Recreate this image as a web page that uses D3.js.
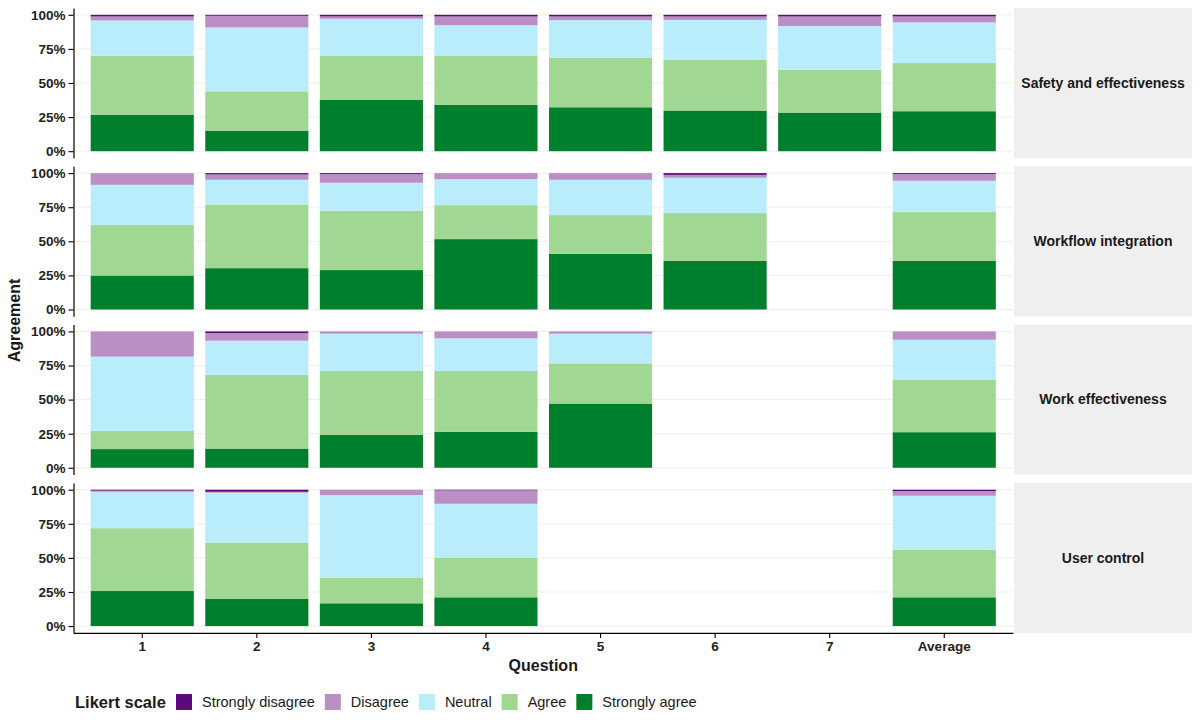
<!DOCTYPE html>
<html>
<head>
<meta charset="utf-8">
<script src="https://cdn.jsdelivr.net/npm/d3@7"></script>
<style>
  body { margin: 0; background: #fff; }
  svg text { font-family: "Liberation Sans", Arial, sans-serif; }
</style>
</head>
<body>
<svg id="chart" width="1200" height="720"></svg>
<script>
// values in percent, each row is [Strongly disagree, Disagree, Neutral, Agree, Strongly agree]
const questions = ["1", "2", "3", "4", "5", "6", "7", "Average"];
const levels = ["Strongly disagree", "Disagree", "Neutral", "Agree", "Strongly agree"];
const facets = ["Safety and effectiveness", "Workflow integration", "Work effectiveness", "User control"];

const safety = [
  [1.2, 2.9, 25.9, 43.2, 26.8],
  [0.7, 8.6, 46.8, 28.8, 15.1],
  [1.2, 1.7, 27.3, 32.0, 37.8],
  [1.2, 6.4, 22.2, 36.1, 34.1],
  [1.2, 2.7, 27.6, 36.3, 32.2],
  [1.2, 2.5, 29.2, 37.3, 29.8],
  [1.2, 7.1, 31.9, 31.5, 28.3],
  [1.2, 4.4, 29.8, 35.3, 29.3]
];
const workflow = [
  [0.0, 8.6, 29.5, 37.0, 24.9],
  [1.0, 3.9, 18.1, 46.7, 30.3],
  [0.7, 6.4, 20.5, 43.5, 28.9],
  [0.0, 4.4, 19.1, 24.9, 51.6],
  [0.0, 4.9, 25.9, 28.4, 40.8],
  [1.3, 2.1, 25.9, 35.0, 35.7],
  null,
  [0.7, 4.9, 23.0, 35.7, 35.7]
];
const workEffect = [
  [0.0, 18.5, 54.4, 13.4, 13.7],
  [1.2, 5.6, 25.2, 53.9, 14.1],
  [0.0, 1.7, 27.3, 46.9, 24.1],
  [0.0, 5.1, 23.9, 44.7, 26.3],
  [0.0, 1.7, 21.7, 29.5, 47.1],
  null,
  null,
  [0.0, 6.1, 29.5, 38.3, 26.1]
];
const userControl = [
  [0.7, 0.8, 26.7, 46.1, 25.7],
  [1.5, 0.7, 36.5, 41.4, 19.9],
  [0.0, 3.9, 60.8, 18.6, 16.7],
  [0.5, 9.8, 39.7, 28.9, 21.1],
  null,
  null,
  null,
  [1.0, 3.4, 39.7, 34.8, 21.1]
];
const facetData = [safety, workflow, workEffect, userControl];

const colors = ["#5a0a7a", "#bb8fc5", "#b9edfc", "#a0d792", "#007f2c"];
const yTicks = [0, 25, 50, 75, 100];

let svg = d3.select("#chart");

let left = 73.5, right = 1013;
let panelTop = 8, panelH = 150, panelGap = 8.3;
let stripW = 178;

let x = d3.scaleBand()
  .domain(questions)
  .range([left, right])
  .paddingInner(0.1)
  .paddingOuter(0.15);

let y = d3.scaleLinear().domain([-5, 105]).range([panelH, 0]);

let color = d3.scaleOrdinal().domain(levels).range(colors);

// stack from the bottom: Strongly agree first
let stack = d3.stack().keys(levels.slice().reverse());

facetData.forEach((rows, fi) => {
  let top = panelTop + fi * (panelH + panelGap);
  let g = svg.append("g").attr("transform", `translate(0,${top})`);

  g.selectAll("line.grid")
    .data(yTicks)
    .enter()
    .append("line")
    .attr("class", "grid")
    .attr("x1", left)
    .attr("x2", right)
    .attr("y1", d => y(d))
    .attr("y2", d => y(d))
    .attr("stroke", "#ebebeb")
    .attr("stroke-width", 0.8);

  let table = [];
  rows.forEach((r, i) => {
    if (r === null) return;
    let o = { q: questions[i] };
    levels.forEach((l, j) => { o[l] = r[j]; });
    table.push(o);
  });

  g.selectAll("g.layer")
    .data(stack(table))
    .enter()
    .append("g")
    .attr("class", "layer")
    .attr("fill", d => color(d.key))
    .selectAll("rect")
    .data(d => d)
    .enter()
    .append("rect")
    .attr("x", d => x(d.data.q))
    .attr("width", x.bandwidth())
    .attr("y", d => y(d[1]))
    .attr("height", d => Math.max(0, y(d[0]) - y(d[1])));

  let yAxis = g.append("g")
    .attr("transform", `translate(${left},0)`)
    .call(d3.axisLeft(y).tickValues(yTicks).tickFormat(d => d + "%").tickSize(5).tickSizeOuter(0).tickPadding(3));
  yAxis.select(".domain").attr("stroke", "#000").attr("stroke-width", 1.2);
  yAxis.selectAll(".tick line").attr("stroke", "#000").attr("stroke-width", 1.1);
  yAxis.selectAll(".tick text")
    .attr("fill", "#222")
    .attr("font-size", "13.5px")
    .attr("font-weight", "bold");

  // strip
  g.append("rect")
    .attr("x", right + 1)
    .attr("y", 0)
    .attr("width", stripW)
    .attr("height", panelH)
    .attr("fill", "#efefef");
  g.append("text")
    .attr("x", right + 1 + stripW / 2)
    .attr("y", panelH / 2)
    .attr("dy", "0.35em")
    .attr("text-anchor", "middle")
    .attr("font-size", "14px")
    .attr("font-weight", "bold")
    .attr("fill", "#1a1a1a")
    .text(facets[fi]);

  if (fi === facetData.length - 1) {
    let xAxis = g.append("g")
      .attr("transform", `translate(0,${panelH})`)
      .call(d3.axisBottom(x).tickSize(5).tickSizeOuter(0).tickPadding(4));
    xAxis.select(".domain").attr("stroke", "#000").attr("stroke-width", 1.2);
    xAxis.selectAll(".tick line").attr("stroke", "#000").attr("stroke-width", 1.1);
    xAxis.selectAll(".tick text")
      .attr("fill", "#222")
      .attr("font-size", "13.5px")
      .attr("font-weight", "bold");
  }
});

let bottom = panelTop + 4 * panelH + 3 * panelGap;

svg.append("text")
  .attr("x", (left + right) / 2)
  .attr("y", bottom + 38)
  .attr("text-anchor", "middle")
  .attr("font-size", "16px")
  .attr("font-weight", "bold")
  .attr("fill", "#1a1a1a")
  .text("Question");

svg.append("text")
  .attr("transform", `translate(20,${(panelTop + bottom) / 2}) rotate(-90)`)
  .attr("text-anchor", "middle")
  .attr("font-size", "16px")
  .attr("font-weight", "bold")
  .attr("fill", "#1a1a1a")
  .text("Agreement");

// legend
let legend = svg.append("g").attr("transform", "translate(75,702)");
legend.append("text")
  .attr("x", 0)
  .attr("dy", "0.35em")
  .attr("font-size", "16.5px")
  .attr("font-weight", "bold")
  .attr("fill", "#1a1a1a")
  .text("Likert scale");

let lx = 101;
levels.forEach((l, i) => {
  let item = legend.append("g").attr("transform", `translate(${lx},0)`);
  item.append("rect")
    .attr("x", 0)
    .attr("y", -8)
    .attr("width", 16)
    .attr("height", 16)
    .attr("fill", colors[i]);
  let t = item.append("text")
    .attr("x", 26)
    .attr("dy", "0.35em")
    .attr("font-size", "14.5px")
    .attr("fill", "#1a1a1a")
    .text(l);
  lx += 26 + t.node().getComputedTextLength() + 10;
});
</script>
</body>
</html>
